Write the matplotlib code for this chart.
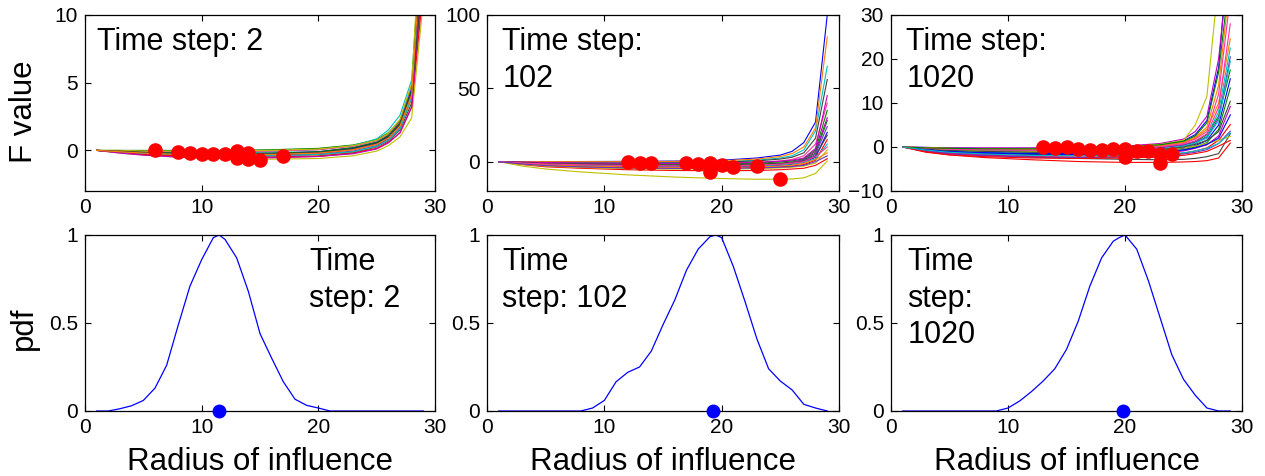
import matplotlib
matplotlib.use("Agg")
import matplotlib.pyplot as plt

plt.rcParams['font.family'] = ['Liberation Sans', 'DejaVu Sans']

# ---------------- data ----------------
# x positions (radius of influence) of F-value curve vertices
xf = [1, 3, 5, 8, 12, 16, 20, 23, 25, 26, 27, 28, 29]

# F value curves, time step 2
f_ts2 = [
    [0, -0.05, -0.1, -0.15, -0.2, -0.2, -0.1, 0.2, 0.6, 1.1, 2.0, 4.3, 15],
    [0, 0.0, 0.0, 0.0, 0.0, 0.05, 0.15, 0.4, 0.8, 1.3, 2.2, 4.8, 13],
    [0, -0.1, -0.2, -0.3, -0.35, -0.35, -0.25, 0.05, 0.45, 0.95, 1.9, 4.2, 16],
    [0, -0.05, -0.1, -0.15, -0.15, -0.1, 0.05, 0.35, 0.85, 1.5, 2.6, 5.2, 18],
    [0, -0.1, -0.2, -0.3, -0.35, -0.3, -0.2, 0.1, 0.5, 1.0, 1.9, 4.4, 14],
    [0, -0.2, -0.35, -0.5, -0.6, -0.65, -0.6, -0.4, -0.05, 0.35, 1.0, 2.4, 11],
    [0, -0.15, -0.3, -0.45, -0.5, -0.5, -0.4, -0.15, 0.25, 0.7, 1.5, 3.5, 13],
    [0, -0.15, -0.3, -0.4, -0.45, -0.45, -0.35, -0.1, 0.3, 0.8, 1.6, 3.8, 17],
    [0, -0.05, -0.1, -0.1, -0.1, -0.05, 0.05, 0.3, 0.7, 1.2, 2.1, 4.6, 12],
    [0, -0.1, -0.25, -0.35, -0.4, -0.4, -0.3, -0.05, 0.35, 0.85, 1.7, 4.0, 15],
    [0, -0.1, -0.2, -0.25, -0.3, -0.25, -0.15, 0.15, 0.55, 1.05, 2.0, 4.5, 16],
    [0, -0.05, -0.15, -0.2, -0.25, -0.2, -0.1, 0.2, 0.6, 1.1, 2.0, 4.4, 19],
    [0, -0.15, -0.3, -0.4, -0.5, -0.5, -0.45, -0.2, 0.15, 0.6, 1.3, 3.2, 12],
    [0, -0.1, -0.2, -0.3, -0.4, -0.4, -0.3, -0.1, 0.3, 0.75, 1.6, 3.9, 14],
    [0, -0.2, -0.35, -0.5, -0.55, -0.55, -0.45, -0.25, 0.1, 0.55, 1.3, 3.2, 14],
    [0, 0.0, -0.05, -0.05, -0.05, 0.0, 0.1, 0.35, 0.75, 1.25, 2.3, 4.9, 20],
    [0, -0.05, -0.15, -0.2, -0.25, -0.25, -0.15, 0.1, 0.5, 1.0, 1.9, 4.3, 13],
    [0, -0.1, -0.2, -0.3, -0.3, -0.3, -0.2, 0.05, 0.45, 0.9, 1.8, 4.1, 17],
]

# F value curves, time step 102
f_ts102 = [
    [0, 0, 0, 0.1, 0.2, 0.4, 1.0, 2.5, 4.5, 7.0, 13, 27, 100],
    [0, -0.6, -1.2, -1.6, -2.0, -2.2, -2.1, -1.7, -1.0, -0.3, 1.0, 6, 28],
    [0, -2.0, -3.5, -4.5, -5.5, -6.0, -6.2, -6.0, -5.5, -5.0, -4.5, -2.5, 2],
    [0, -0.3, -0.5, -0.6, -0.6, -0.4, 0, 1.0, 2.5, 4.0, 8, 21, 65],
    [0, -1.0, -1.8, -2.5, -3.0, -3.2, -3.0, -2.5, -1.5, -0.5, 1.5, 7, 30],
    [0, -3.0, -5.0, -7.0, -9.0, -10.5, -11.5, -12.0, -12.0, -11.8, -11.0, -8.0, 0.5],
    [0, -0.5, -0.8, -1.0, -1.0, -0.8, -0.3, 0.5, 1.8, 3.0, 6, 16, 56],
    [0, 0, 0, 0, 0, 0.2, 0.6, 1.8, 3.5, 5.5, 10, 23, 85],
    [0, -0.5, -1.0, -1.3, -1.5, -1.5, -1.2, -0.5, 0.5, 1.5, 4, 12, 40],
    [0, -0.8, -1.5, -2.0, -2.5, -2.8, -2.8, -2.5, -1.8, -1.0, 0.5, 5, 24],
    [0, -1.2, -2.0, -2.8, -3.3, -3.6, -3.6, -3.2, -2.5, -1.8, -0.5, 3, 20],
    [0, -0.4, -0.8, -1.2, -1.5, -1.6, -1.5, -1.0, -0.2, 0.5, 2.0, 8, 35],
    [0, -1.5, -2.5, -3.3, -4.0, -4.3, -4.3, -4.0, -3.5, -3.0, -2.0, 1, 15],
    [0, -1.0, -1.7, -2.3, -2.8, -3.0, -3.0, -2.7, -2.2, -1.5, -0.5, 2, 12],
    [0, -0.3, -0.6, -0.9, -1.1, -1.2, -1.0, -0.5, 0.3, 1.0, 2.5, 9, 45],
    [0, -1.8, -3.0, -4.0, -4.7, -5.0, -5.0, -4.8, -4.2, -3.8, -3.0, -1, 8],
    [0, -0.7, -1.3, -1.8, -2.2, -2.4, -2.3, -2.0, -1.4, -0.8, 0.3, 4, 18],
    [0, -1.3, -2.2, -3.0, -3.6, -3.9, -3.9, -3.6, -3.0, -2.4, -1.2, 1.5, 6],
    [0, -0.9, -1.6, -2.1, -2.6, -2.9, -2.8, -2.4, -1.7, -1.0, 0, 3.5, 10],
    [0, -1.6, -2.7, -3.6, -4.3, -4.6, -4.6, -4.3, -3.8, -3.3, -2.5, 0, 4],
]

# F value curves, time step 1020
f_ts1020 = [
    [0, -0.1, -0.2, -0.3, -0.3, -0.2, 0.1, 0.6, 1.4, 2.8, 6.0, 18, 50],
    [0, -0.3, -0.5, -0.7, -0.8, -0.8, -0.6, -0.2, 0.5, 1.2, 2.8, 7, 17.5],
    [0, -1.2, -1.8, -2.4, -2.9, -3.3, -3.5, -3.5, -3.4, -3.3, -3.1, -2.5, 0.9],
    [0, -0.5, -0.9, -1.2, -1.4, -1.4, -1.2, -0.8, 0, 0.8, 2.5, 8, 22.5],
    [0, -0.1, -0.2, -0.2, -0.2, -0.1, 0.2, 0.8, 1.8, 3.5, 7.0, 20, 45],
    [0, -0.2, -0.3, -0.4, -0.4, -0.3, 0, 0.6, 1.5, 5.0, 11.5, 38, 60],
    [0, -0.8, -1.3, -1.8, -2.3, -2.6, -2.8, -2.9, -2.8, -2.6, -2.2, -1.5, 3.0],
    [0, -0.2, -0.4, -0.5, -0.6, -0.5, -0.2, 0.3, 1.0, 2.0, 4.0, 10, 24.6],
    [0, -0.3, -0.5, -0.6, -0.7, -0.6, -0.4, 0, 0.6, 1.4, 3.0, 9, 28],
    [0, -0.4, -0.6, -0.8, -0.9, -0.8, -0.6, -0.2, 0.4, 1.1, 2.2, 6.5, 20.5],
    [0, -0.6, -1.0, -1.3, -1.5, -1.5, -1.3, -0.9, -0.3, 0.3, 1.5, 5, 15.5],
    [0, -0.7, -1.2, -1.5, -1.7, -1.8, -1.6, -1.2, -0.6, 0, 1.0, 4, 13.4],
    [0, -0.9, -1.5, -1.9, -2.2, -2.3, -2.2, -1.9, -1.4, -0.9, -0.2, 1.5, 5.1],
    [0, -0.4, -0.7, -1.0, -1.1, -1.1, -0.9, -0.5, 0.2, 0.9, 2.0, 6, 19.5],
    [0, -0.8, -1.3, -1.7, -2.0, -2.0, -1.8, -1.4, -0.9, -0.3, 0.5, 2.5, 9.2],
    [0, -0.4, -0.7, -0.9, -1.0, -1.0, -0.9, -0.6, -0.2, 0.2, 0.8, 1.5, 2.4],
    [0, -0.5, -0.8, -1.0, -1.2, -1.2, -1.0, -0.6, 0, 0.6, 1.5, 3.5, 10.4],
    [0, -0.2, -0.4, -0.5, -0.5, -0.4, -0.2, 0.3, 1.1, 2.2, 4.5, 14, 38],
    [0, -0.3, -0.5, -0.6, -0.7, -0.6, -0.4, 0.1, 0.8, 1.8, 3.5, 12, 34],
    [0, -1.0, -1.6, -2.0, -2.3, -2.4, -2.3, -2.0, -1.6, -1.2, -0.6, 0.8, 3.6],
    [0, -0.6, -1.1, -1.4, -1.6, -1.7, -1.5, -1.2, -0.7, -0.2, 0.6, 2.0, 7.3],
    [0, -0.2, -0.3, -0.4, -0.4, -0.3, 0, 0.5, 1.3, 2.5, 5.5, 17, 40],
    [0, -1.1, -1.8, -2.2, -2.5, -2.6, -2.5, -2.3, -1.9, -1.5, -1.0, 0.2, 1.5],
    [0, -0.7, -1.2, -1.6, -1.9, -2.0, -1.9, -1.7, -1.3, -0.9, -0.3, 0.8, 3.2],
]

# red dots (particles) on F curves
dots_ts2_x = [6, 8, 9, 10, 11, 12, 13, 13, 14, 14, 15, 17]
dots_ts2_y = [0, -0.12, -0.2, -0.25, -0.25, -0.3, -0.07, -0.57, -0.2, -0.64, -0.69, -0.4]
dots_ts102_x = [12, 13, 14, 17, 18, 19, 19, 20, 21, 23, 25]
dots_ts102_y = [0, -0.7, -0.7, -0.7, -1.8, -0.7, -7, -2.3, -3.4, -3, -12]
dots_ts1020_x = [13, 14, 15, 16, 17, 18, 19, 20, 20, 21, 22, 23, 23, 24]
dots_ts1020_y = [0, -0.15, 0, -0.4, -0.7, -0.7, -0.4, -0.4, -2.3, -1.0, -0.8, -1.6, -3.6, -1.7]

# pdf curves
pdf_ts2_x = [1, 2, 3, 4, 5, 6, 7, 8, 9, 10, 11, 11.5, 12, 13, 14, 15, 16, 17, 18, 19,
             20, 21, 22, 23, 24, 25, 26, 27, 28, 29]
pdf_ts2_y = [0, 0, 0.013, 0.03, 0.06, 0.13, 0.26, 0.49, 0.71, 0.86, 0.985, 1.0, 0.975,
             0.87, 0.68, 0.44, 0.30, 0.166, 0.067, 0.032, 0.017, 0, 0, 0, 0, 0, 0, 0, 0, 0]
pdf_ts102_x = [1, 2, 3, 4, 5, 6, 7, 8, 9, 10, 11, 12, 13, 14, 15, 16, 17, 18, 19, 19.5,
               20, 21, 22, 23, 24, 25, 26, 27, 28, 29]
pdf_ts102_y = [0, 0, 0, 0, 0, 0, 0, 0, 0.017, 0.06, 0.166, 0.22, 0.25, 0.34, 0.49, 0.63,
               0.80, 0.92, 0.99, 1.0, 0.985, 0.82, 0.62, 0.41, 0.24, 0.17, 0.12, 0.038,
               0.017, 0]
pdf_ts1020_x = [1, 2, 3, 4, 5, 6, 7, 8, 9, 10, 11, 12, 13, 14, 15, 16, 17, 18, 19, 19.5,
                20, 21, 22, 23, 24, 25, 26, 27, 28, 29]
pdf_ts1020_y = [0, 0, 0, 0, 0, 0, 0, 0, 0, 0.017, 0.057, 0.11, 0.17, 0.24, 0.35, 0.51,
                0.71, 0.87, 0.965, 0.985, 1.0, 0.92, 0.74, 0.53, 0.32, 0.18, 0.09, 0.017,
                0, 0]
# mean radius (blue dot)
mean_r = [11.5, 19.3, 19.8]

top_titles = [["Time step: 2"], ["Time step:", "102"], ["Time step:", "1020"]]
bottom_titles = [["Time", "step: 2"], ["Time", "step: 102"], ["Time", "step:", "1020"]]
top_ylims = [(-3, 10), (-20, 100), (-10, 30)]
top_yticks = [[0, 5, 10], [0, 50, 100], [-10, 0, 10, 20, 30]]
xticks = [0, 10, 20, 30]

# ---------------- styling ----------------
palette = [(0, 0, 1), (0, 0.5, 0), (1, 0, 0), (0, 0.75, 0.75), (0.75, 0, 0.75),
           (0.75, 0.75, 0), (0.25, 0.25, 0.25), (1, 0.5, 0), (1, 0.2, 0.6), (0.4, 0.2, 0.8)]

W, H = 1265, 476
fig = plt.figure(figsize=(W / 100, H / 100), dpi=100)

lefts_px = [85, 487, 891]
widths_px = [350, 352, 351]
top_px = (15, 191)
bot_px = (235, 411)


def make_ax(lp, wp, ypx):
    return fig.add_axes([lp / W, 1 - ypx[1] / H, wp / W, (ypx[1] - ypx[0]) / H])


def style(ax):
    ax.tick_params(direction='in', top=True, right=True, length=4, width=0.8,
                   labelsize=15, pad=5)
    for s in ax.spines.values():
        s.set_linewidth(0.9)
    ax.set_xlim(0, 30)
    ax.set_xticks(xticks)


def put_lines(ax, x, lines, spacing=0.207, start=0.80):
    for i, ln in enumerate(lines):
        ax.text(x, start - i * spacing, ln, transform=ax.transAxes, fontsize=22,
                ha='left', va='baseline')


f_sets = [f_ts2, f_ts102, f_ts1020]
dots = [(dots_ts2_x, dots_ts2_y), (dots_ts102_x, dots_ts102_y), (dots_ts1020_x, dots_ts1020_y)]
pdfs = [(pdf_ts2_x, pdf_ts2_y), (pdf_ts102_x, pdf_ts102_y), (pdf_ts1020_x, pdf_ts1020_y)]
top_text_x = [0.035, 0.043, 0.044]
bot_text_x = [0.641, 0.043, 0.046]

for k in range(3):
    ax = make_ax(lefts_px[k], widths_px[k], top_px)
    style(ax)
    for j, curve in enumerate(f_sets[k]):
        ax.plot(xf, curve, color=palette[j % len(palette)], lw=0.8)
    ax.plot(dots[k][0], dots[k][1], 'o', color='red', ms=9.5, mec='red', zorder=5)
    ax.set_ylim(*top_ylims[k])
    ax.set_yticks(top_yticks[k])
    put_lines(ax, top_text_x[k], top_titles[k])
    if k == 0:
        ax.set_ylabel("F value", fontsize=22.5)
        ax.yaxis.label.set_va('baseline')
        ax.yaxis.set_label_coords(-0.152, 0.45)

    axb = make_ax(lefts_px[k], widths_px[k], bot_px)
    style(axb)
    axb.plot(pdfs[k][0], pdfs[k][1], color='blue', lw=0.9)
    axb.plot([mean_r[k]], [0], 'o', color='blue', ms=9, mec='blue', clip_on=False, zorder=5)
    axb.set_ylim(0, 1)
    axb.set_yticks([0, 0.5, 1])
    axb.set_yticklabels(["0", "0.5", "1"])
    put_lines(axb, bot_text_x[k], bottom_titles[k])
    axb.set_xlabel("Radius of influence", fontsize=22.5)
    axb.xaxis.label.set_va('baseline')
    axb.xaxis.set_label_coords(0.5, -0.335)
    if k == 0:
        axb.set_ylabel("pdf", fontsize=22.5)
        axb.yaxis.label.set_va('baseline')
        axb.yaxis.set_label_coords(-0.152, 0.47)

fig.savefig("out.png", dpi=100)
